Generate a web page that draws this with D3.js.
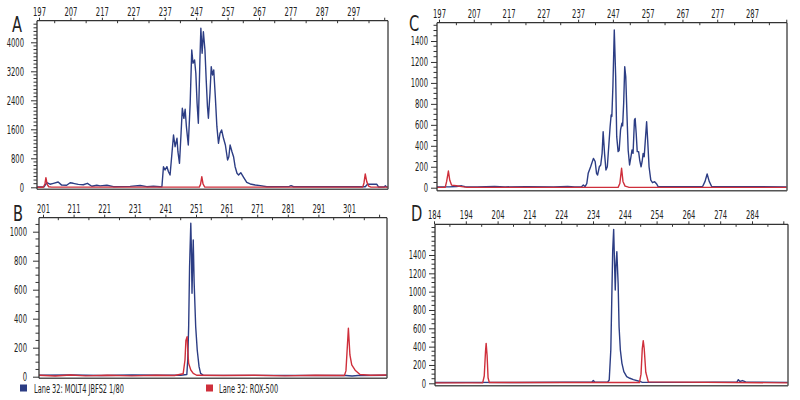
<!DOCTYPE html>
<html><head><meta charset="utf-8">
<script src="https://cdn.jsdelivr.net/npm/d3@7"></script>
<style>
body{margin:0;background:#fff;}
svg text{font-family:"DejaVu Sans Condensed","Liberation Sans Narrow",sans-serif;fill:#222;}
</style></head><body>
<svg id="c" width="800" height="400"></svg>
<script>
// ---------- DATA ----------
const panelLetters = ["A","B","C","D"];
const xTicksA = [197,207,217,227,237,247,257,267,277,287,297];
const xTicksB = [201,211,221,231,241,251,261,271,281,291,301];
const xTicksC = [197,207,217,227,237,247,257,267,277,287];
const xTicksD = [184,194,204,214,224,234,244,254,264,274,284];
const yTicksA = [0,800,1600,2400,3200,4000];
const yTicksB = [0,200,400,600,800,1000];
const yTicksC = [0,200,400,600,800,1000,1200,1400];
const yTicksD = [0,200,400,600,800,1000,1200,1400];
const legendLabels = ["Lane 32: MOLT4 JBFS2 1/80","Lane 32: ROX-500"];

const blueA = [[196.4,10],[198.6,15],[199.5,127],[200.5,85],[201.6,110],[203.1,145],[204.2,60],[205.8,55],[206.9,125],[207.9,110],[209.5,80],[211.1,70],[212.4,110],[213.8,30],[215.4,55],[216.4,40],[218.6,55],[220.7,17],[222.8,20],[226.0,25],[229.2,50],[231.3,17],[233.4,30],[235.5,17],[236.1,15],
[236.6,568],[237.1,477],[237.7,568],[238.2,430],[238.7,339],[239.3,938],[239.8,1443],[240.3,1120],[240.9,1352],[241.2,982],[241.7,662],[242.2,1490],[242.6,2179],[243.1,1903],[243.5,2152],[243.9,1672],[244.5,1167],[245.1,2317],[245.6,3788],[246.0,3421],[246.5,3512],[246.9,3145],[247.3,2317],[247.7,1766],[248.2,3512],[248.5,4386],[248.9,3697],[249.3,4292],[249.8,3788],[250.2,2960],[250.6,2224],[250.9,1903],[251.4,2593],[251.8,3327],[252.2,3098],[252.6,3236],[253.1,2500],[253.6,1672],[254.1,1214],[254.6,1490],[255.1,1581],[255.7,1352],[256.3,1167],[257.0,753],[257.4,844],[257.8,1167],[258.4,982],[258.9,844],[259.4,568],[260.0,386],[260.5,339],[261.2,403],[262.1,276],[263.1,138],[264.2,92],[265.8,64],[267.4,46],[269.5,15],
[276.5,20],[277.2,45],[278.0,15],[300.8,15],[301.5,83],[304.5,83],[305.0,10],[306.8,10],[307.2,40],[307.6,10],[308.1,10]];
const redA = [[196.4,3],[198.4,3],[198.9,100],[199.2,265],[199.6,80],[200.1,15],[201,5],[248.0,5],[248.4,80],[248.8,292],[249.2,90],[249.7,10],[250.5,4],[300.0,5],[300.4,120],[300.8,367],[301.3,150],[301.9,30],[302.6,5],[308.1,5]];

const blueB = [[199.7,10],[210,12],[220,8],[230,12],[240,10],[246,10],[248.0,15],[248.3,115],[248.6,345],[248.9,759],[249.3,1058],[249.5,874],[249.7,575],[249.9,782],[250.1,943],[250.4,644],[250.9,345],[251.4,184],[252.0,69],[252.5,23],[253.4,10],[300,8],[302,5],[304,8],[313.4,10]];
const redB = [[199.7,10],[205,5],[210,12],[215,6],[222,10],[230,6],[238,10],[244,8],[246.8,20],[247.4,115],[247.7,250],[248.1,276],[248.3,184],[248.6,92],[249.3,46],[250.1,23],[251.2,10],[260,8],[270,10],[280,6],[290,10],[299.5,8],[300.0,40],[300.8,334],[301.3,150],[301.9,81],[303,45],[304.6,15],[308,10],[313.4,12]];

const blueC = [[196.4,8],[200,8],[202,12],[203.5,18],[204.5,10],[208,8],[213,12],[216,8],[222,10],[230,8],[234,12],[236,8],[238.0,10],[238.5,25],[239.0,10],[239.5,40],[239.9,137],[240.6,200],[241.4,280],[241.9,250],[242.3,137],[242.6,121],[243.1,200],[243.5,217],[243.9,328],[244.2,534],[244.6,328],[245.0,169],[245.4,200],[245.8,391],[246.2,582],[246.5,694],[246.7,680],[247.0,964],[247.4,1505],[247.8,1059],[248.1,487],[248.5,344],[248.8,355],[249.2,551],[249.6,615],[249.8,590],[250.1,805],[250.4,1155],[250.7,1059],[251.1,646],[251.4,355],[251.8,217],[252.2,296],[252.5,360],[252.8,328],[253.2,646],[253.4,661],[253.7,519],[254.0,344],[254.4,344],[254.7,264],[255.1,200],[255.4,248],[255.7,328],[256.0,296],[256.4,487],[256.7,630],[257.0,455],[257.4,200],[257.9,73],[258.4,48],[259.0,57],[259.6,35],[260.0,10],[265,10],[272.8,12],[273.5,60],[274.1,131],[274.7,60],[275.4,12],[297,8]];
const redC = [[196.4,3],[198.8,5],[199.2,60],[199.7,159],[200.1,70],[200.6,25],[202,18],[203.5,10],[205,3],[248.5,3],[249.0,40],[249.5,185],[249.9,60],[250.5,15],[251.5,5],[297,3]];

const blueD = [[184.3,8],[195,10],[210,8],[225,12],[233.6,12],[234.1,30],[234.6,12],[238.6,12],[239.1,36],[239.6,363],[239.9,909],[240.2,1455],[240.5,1680],[240.8,1272],[241.0,1018],[241.2,1272],[241.5,1436],[241.9,1091],[242.2,618],[242.6,363],[243.1,218],[243.7,127],[244.6,73],[245.6,55],[246.7,40],[248.8,20],[249.5,10],[265,10],[279.3,15],[279.7,40],[280.2,20],[281,30],[282,15],[295.3,10]];
const redD = [[184.3,5],[199.3,5],[199.8,80],[200.2,350],[200.4,436],[200.7,300],[201.0,60],[201.4,8],[248.6,8],[249.1,100],[249.5,380],[249.8,465],[250.1,380],[250.6,120],[251.4,15],[295.3,5]];

// ---------- LAYOUT ----------
const BLUE = "#2c3d84", RED = "#cf2f3b", AX = "#333";
const panels = [
  {L:"A", blue:blueA, red:redA, xt:xTicksA, yt:yTicksA, minorY:100, pad:7, box:[37,20.7,388,189.3], xm:[197,39,297,353.3], ym:[0,187.3,4000,42.3], letter:[12,32]},
  {L:"B", blue:blueB, red:redB, xt:xTicksB, yt:yTicksB, minorY:50,  pad:6, box:[39,217.7,387,378.3], xm:[201,43,301,349], ym:[0,376.7,1000,231.7], letter:[13,221]},
  {L:"C", blue:blueC, red:redC, xt:xTicksC, yt:yTicksC, minorY:50,  pad:3, box:[437,22.7,787,190.7], xm:[197,439,287,752], ym:[0,187.7,1400,41], letter:[409,31]},
  {L:"D", blue:blueD, red:redD, xt:xTicksD, yt:yTicksD, minorY:50,  pad:3, box:[435,224.3,788,385.7], xm:[184,434,284,752], ym:[0,383.3,1400,255], letter:[411,221]}
];

const svg = d3.select("#c");
panels.forEach((p,i)=>{
  const [x0,y0,x1,y1] = p.box;
  const x = d3.scaleLinear().domain([p.xm[0],p.xm[2]]).range([p.xm[1],p.xm[3]]);
  const y = d3.scaleLinear().domain([p.ym[0],p.ym[2]]).range([p.ym[1],p.ym[3]]);
  const g = svg.append("g");
  const cid = "clip"+p.L;
  svg.append("clipPath").attr("id",cid).append("rect").attr("x",x0).attr("y",y0).attr("width",x1-x0).attr("height",y1-y0);

  const line = d3.line().x(d=>x(d[0])).y(d=>y(d[1])).curve(d3.curveLinear);
  const tg = g.append("g").attr("clip-path",`url(#${cid})`);
  tg.append("path").datum(p.blue).attr("d",line).attr("fill","none").attr("stroke",BLUE).attr("stroke-width",1.4).attr("stroke-linejoin","round");
  tg.append("path").datum(p.red).attr("d",line).attr("fill","none").attr("stroke",RED).attr("stroke-width",1.4).attr("stroke-linejoin","round");

  g.append("line").attr("x1",x1).attr("x2",x1).attr("y1",y0).attr("y2",y1).attr("stroke","#555").attr("stroke-width",1.5);
  g.append("line").attr("x1",x0).attr("x2",x1).attr("y1",y1).attr("y2",y1).attr("stroke","#555").attr("stroke-width",1.6);

  const dom = x.invert(x1);
  const minorX = [];
  for(let v=p.xt[0]+5; v<=dom; v+=10) minorX.push(v);
  const extraMajor = [];
  for(let v=p.xt[p.xt.length-1]+10; v<=dom; v+=10) extraMajor.push(v);
  const topAx = g.append("g").attr("transform",`translate(0,${y0})`);
  topAx.call(d3.axisTop(x).tickValues(p.xt).tickSize(3).tickSizeOuter(0).tickPadding(2).tickFormat(d3.format("d")));
  topAx.select(".domain").remove();
  topAx.selectAll("text").attr("font-size",12).attr("fill","#222").attr("class","num");
  topAx.selectAll(".tick line").attr("stroke",AX);
  topAx.selectAll("line.mn").data(minorX).enter().append("line").attr("class","mn")
    .attr("x1",d=>x(d)).attr("x2",d=>x(d)).attr("y1",0).attr("y2",2.5).attr("stroke",AX);
  topAx.selectAll("line.ex").data(extraMajor).enter().append("line").attr("class","ex")
    .attr("x1",d=>x(d)).attr("x2",d=>x(d)).attr("y1",-3).attr("y2",0).attr("stroke",AX);
  g.append("line").attr("x1",x0).attr("x2",x1).attr("y1",y0).attr("y2",y0).attr("stroke",AX).attr("stroke-width",1.3);

  const ytop = y.invert(y0+2);
  const minorY = [];
  for(let v=p.minorY; v<=ytop; v+=p.minorY) if(!p.yt.includes(v)) minorY.push(v);
  const leftAx = g.append("g").attr("transform",`translate(${x0},0)`);
  leftAx.call(d3.axisLeft(y).tickValues(p.yt).tickSize(6).tickSizeOuter(0).tickPadding(p.pad).tickFormat(d3.format("d")));
  leftAx.select(".domain").remove();
  leftAx.selectAll("text").attr("font-size",12).attr("fill","#222").attr("class","num");
  leftAx.selectAll(".tick line").attr("stroke",AX);
  leftAx.selectAll("line.mn").data(minorY).enter().append("line").attr("class","mn")
    .attr("x1",-3.5).attr("x2",0).attr("y1",d=>y(d)).attr("y2",d=>y(d)).attr("stroke",AX);
  g.append("line").attr("x1",x0).attr("x2",x0).attr("y1",y0).attr("y2",y1).attr("stroke",AX).attr("stroke-width",1.3);

  g.append("text").attr("class","letter").attr("x",p.letter[0]).attr("y",p.letter[1]).attr("font-size",22).text(panelLetters[i]);
});

const lg = svg.append("g");
const legendX = [[20,34],[206,219]];
[BLUE,RED].forEach((c,i)=>{
  lg.append("rect").attr("x",legendX[i][0]).attr("y",384.5).attr("width",7).attr("height",7).attr("fill",c);
  lg.append("text").attr("class","leg").attr("x",legendX[i][1]).attr("y",392.5).attr("font-size",12).text(legendLabels[i]);
});

// condense all texts to match the narrow typeface of the original
function squeeze(sel,k){ sel.each(function(){ const w=this.getComputedTextLength(); this.setAttribute("textLength",(w*k).toFixed(1)); this.setAttribute("lengthAdjust","spacingAndGlyphs"); }); }
squeeze(svg.selectAll("text.num"),0.63);
squeeze(svg.selectAll("text.leg"),0.61);
squeeze(svg.selectAll("text.letter"),0.74);
</script>
</body></html>
